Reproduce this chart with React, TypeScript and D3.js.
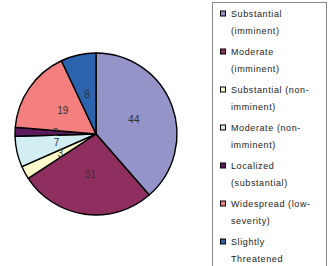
import React, { useEffect, useRef } from 'react';
import * as d3 from 'd3';

// Data
const categories = [
  ['Substantial', '(imminent)'],
  ['Moderate', '(imminent)'],
  ['Substantial (non-', 'imminent)'],
  ['Moderate (non-', 'imminent)'],
  ['Localized', '(substantial)'],
  ['Widespread (low-', 'severity)'],
  ['Slightly', 'Threatened'],
];
const values = [44, 31, 3, 7, 2, 19, 8];
const colors = ['#9494C8', '#8F2F5F', '#FDFBCB', '#D2EEF2', '#5E1A5E', '#F47F7F', '#2B63AE'];

export default function App() {
  const ref = useRef<SVGSVGElement>(null);

  useEffect(() => {
    const svg = d3.select(ref.current);
    svg.selectAll('*').remove();

    const width = 334;
    const height = 266;
    const cx = 96;
    const cy = 134;
    const radius = 81;

    svg.attr('width', width).attr('height', height);

    const data = values.map((v, i) => ({ value: v, i }));

    const pie = d3.pie<{ value: number; i: number }>()
      .value(d => d.value)
      .sort(null);

    const arc = d3.arc<d3.PieArcDatum<{ value: number; i: number }>>()
      .innerRadius(0)
      .outerRadius(radius);

    const g = svg.append('g').attr('transform', `translate(${cx},${cy})`);
    const arcs = pie(data);

    g.selectAll('path')
      .data(arcs)
      .enter().append('path')
      .attr('d', arc)
      .attr('fill', d => colors[d.data.i])
      .attr('stroke', '#000')
      .attr('stroke-width', 1.4)
      .attr('stroke-linejoin', 'round');

    g.selectAll('text')
      .data(arcs)
      .enter().append('text')
      .attr('transform', d => 'translate(' + arc.centroid(d) + ')')
      .attr('dy', '.35em')
      .attr('text-anchor', 'middle')
      .style('font-family', '"Liberation Sans", Arial, sans-serif')
      .style('font-size', '10px')
      .attr('fill', '#333')
      .text(d => d.data.value);

    // Legend
    const legend = svg.append('g');
    legend.append('rect')
      .attr('x', 212.5)
      .attr('y', 2.5)
      .attr('width', 114)
      .attr('height', 280)
      .attr('fill', '#fff')
      .attr('stroke', '#888')
      .attr('stroke-width', 1);

    const item = legend.selectAll('g.item')
      .data(categories)
      .enter().append('g')
      .attr('class', 'item')
      .attr('transform', (_d, i) => `translate(0,${13.5 + i * 38})`);

    item.append('rect')
      .attr('x', 220.5)
      .attr('y', -2.5)
      .attr('width', 5)
      .attr('height', 5)
      .attr('fill', (_d, i) => colors[i])
      .attr('stroke', '#000')
      .attr('stroke-width', 1);

    item.selectAll('text')
      .data(d => d)
      .enter().append('text')
      .attr('x', 231)
      .attr('y', (_d, j) => j * 17)
      .attr('dy', '.35em')
      .style('font-family', '"Liberation Sans", Arial, sans-serif')
      .style('font-size', '9px')
      .style('letter-spacing', '0.6px')
      .attr('fill', '#222')
      .text(d => d);
  }, []);

  return (
    <svg ref={ref} style={{ position: 'absolute', left: 0, top: 0, background: '#fff' }}></svg>
  );
}
